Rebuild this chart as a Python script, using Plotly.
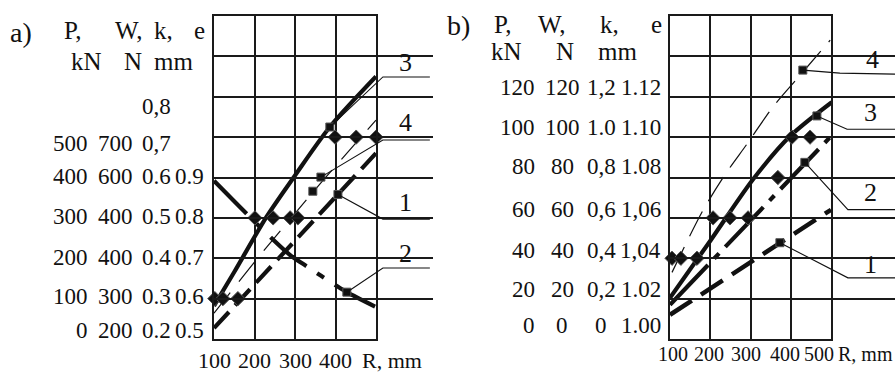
import plotly.graph_objects as go

W, H = 895, 372

# ---------------- panel a) data (R in mm, ordinate on the P scale, kN) ----------------
a1_R = [100, 500]
a1_y = [27, 460]
a2_R = [100, 214, 288, 332, 399, 428, 500]
a2_y = [392, 277, 208, 178, 134, 116, 79]
a3_R = [100, 150, 230, 300, 386, 500]
a3_y = [82, 166, 303, 405, 525, 650]
a4_R = [100, 210, 355, 500]
a4_y = [64, 203, 376, 542]

a_pts_R = [102, 122, 159, 201, 246, 288, 307, 399, 451, 500]
a_pts_y = [100, 100, 100, 300, 300, 300, 300, 500, 500, 500]

a_mark_R = [406, 428, 386, 344, 364]
a_mark_y = [358, 116, 525, 366, 401]

# leaders: marker -> elbow -> end, and curve number position
a_lead = {
    "3": ([386, 517, 633], [525, 649, 649], (572, 686)),
    "4": ([364, 517, 633], [401, 493, 493], (572, 535)),
    "1": ([406, 517, 633], [358, 297, 297], (572, 337)),
    "2": ([428, 517, 633], [116, 176, 176], (572, 213)),
}

a_rows = [0, 100, 200, 300, 400, 500, 600]
a_P = ["0", "100", "200", "300", "400", "500", ""]
a_W = ["200", "300", "400", "400", "600", "700", ""]
a_k = ["0.2", "0.3", "0.4", "0.5", "0.6", "0,7", "0,8"]
a_e = ["0.5", "0.6", "0.7", "0.8", "0.9", "", ""]
a_row_shift = [9, 2, 1, 1, 1, -6, -10]
a_xticks = [100, 200, 300, 400]

# ---------------- panel b) data ----------------
b1_R = [100, 500]
b1_y = [12, 64]
b2_R = [100, 500]
b2_y = [17, 100.4]
b3_R = [100, 202, 306, 398, 502]
b3_y = [20.4, 49.2, 79.0, 100.4, 117.3]
b4_R = [105, 180, 237, 291, 356, 416, 498]
b4_y = [33, 63, 81.5, 96.5, 115, 129, 148]

b_pts_R = [105, 127, 167, 207, 249, 294, 368, 403, 448]
b_pts_y = [40, 40, 40, 60, 60, 60, 80, 100, 100]

b_mark_R = [373, 435, 465, 430]
b_mark_y = [47.7, 87.5, 110.5, 133.2]

b_lead = {
    "4": ([430, 522, 659], [133.2, 131.7, 131.2], (602, 138.6)),
    "3": ([465, 540, 659], [110.5, 103.9, 103.9], (597, 112.3)),
    "2": ([435, 542, 659], [87.5, 64.1, 64.1], (597, 72.5)),
    "1": ([373, 542, 659], [47.7, 30.3, 30.3], (597, 36.8)),
}

b_rows = [0, 20, 40, 60, 80, 100, 120]
b_P = ["0", "20", "40", "60", "80", "100", "120"]
b_W = ["0", "20", "40", "60", "80", "100", "120"]
b_k = ["0", "0,2", "0,4", "0,6", "0,8", "1.0", "1,2"]
b_e = ["1.00", "1.02", "1,04", "1,06", "1.08", "1.10", "1.12"]
b_row_shift = [14, 9, 8, 8, 11, 10, 9]
b_xticks = [100, 200, 300, 400, 500]
b_xshift = [3, -1, -5, -6, -12]

FONT = "Liberation Serif"
INK = "#111111"
NUM = 23

# ---------------- geometry ----------------
def px(x):
    return x / W

def py(y):
    return 1 - y / H

a_dom_x = [px(214), px(376)]
b_dom_x = [px(670), px(831)]
dom_y = [py(339), py(16)]
a_lead_dom = [px(214), px(433)]
b_lead_dom = [px(670), px(895)]

def ext_range(dom, lead_dom):
    span = (lead_dom[1] - lead_dom[0]) / (dom[1] - dom[0])
    return [100, 100 + 400 * span]

fig = go.Figure()

def line(xa, ya, R, y, width, dash="solid", shape="linear"):
    fig.add_trace(go.Scatter(
        x=R, y=y, xaxis=xa, yaxis=ya, mode="lines",
        line=dict(color=INK, width=width, dash=dash, shape=shape, smoothing=0.8),
        hoverinfo="skip", showlegend=False))

def marks(xa, ya, R, y, symbol, size):
    fig.add_trace(go.Scatter(
        x=R, y=y, xaxis=xa, yaxis=ya, mode="markers", cliponaxis=False,
        marker=dict(symbol=symbol, size=size, color=INK,
                    line=dict(color="#555555", width=1)),
        hoverinfo="skip", showlegend=False))

# panel a curves
line("x", "y", a4_R, a4_y, 1.2, "26px,14px", "spline")
line("x", "y", a1_R, a1_y, 4.2, "22px,9px")
line("x", "y", a2_R, a2_y, 4.2, "46px,13px,8px,13px", "spline")
line("x", "y", a3_R, a3_y, 4.2, "solid", "spline")
marks("x", "y", a_pts_R, a_pts_y, "diamond", 11)
marks("x", "y", a_mark_R, a_mark_y, "square", 8)

# panel b curves
line("x2", "y2", b4_R, b4_y, 1.2, "28px,12px", "spline")
line("x2", "y2", b1_R, b1_y, 4.5, "26px,11px")
line("x2", "y2", b2_R, b2_y, 4.2, "55px,9px,7px,9px")
line("x2", "y2", b3_R, b3_y, 4.2, "solid", "spline")
marks("x2", "y2", b_pts_R, b_pts_y, "diamond", 11)
marks("x2", "y2", b_mark_R, b_mark_y, "square", 8)

# leader lines on wider invisible x axes sharing the panels' R scale
for key, (R, y, _) in a_lead.items():
    line("x3", "y", R, y, 1.1)
for key, (R, y, _) in b_lead.items():
    line("x4", "y2", R, y, 1.1)

ann = []

def text(s, x, y, size=NUM, xref="paper", yref="paper", xanchor="center",
         yanchor="middle", xshift=0, yshift=0):
    ann.append(dict(text=s, x=x, y=y, xref=xref, yref=yref, xanchor=xanchor,
                    yanchor=yanchor, xshift=xshift, yshift=yshift, showarrow=False,
                    font=dict(family=FONT, size=size, color=INK)))

# curve numbers
for key, (_, _, (lx, ly)) in a_lead.items():
    text(key, lx, ly, 26, "x3", "y")
for key, (_, _, (lx, ly)) in b_lead.items():
    text(key, lx, ly, 26, "x4", "y2")

# panel a left scales
for i, v in enumerate(a_rows):
    if a_P[i]:
        text(a_P[i], px(90), v, NUM, "paper", "y", "right", yshift=a_row_shift[i])
    if a_W[i]:
        text(a_W[i], px(115), v, NUM, "paper", "y", "center", yshift=a_row_shift[i])
    if a_k[i]:
        text(a_k[i], px(156), v, NUM, "paper", "y", "center", yshift=a_row_shift[i])
    if a_e[i]:
        text(a_e[i], px(206), v, NUM, "paper", "y", "right", yshift=a_row_shift[i])

# panel b left scales
for i, v in enumerate(b_rows):
    text(b_P[i], px(537), v, NUM, "paper", "y2", "right", yshift=b_row_shift[i])
    text(b_W[i], px(562), v, NUM, "paper", "y2", "center", yshift=b_row_shift[i])
    text(b_k[i], px(601), v, NUM, "paper", "y2", "center", yshift=b_row_shift[i])
    text(b_e[i], px(663), v, NUM, "paper", "y2", "right", yshift=b_row_shift[i])

# R tick labels
for v in a_xticks:
    text(str(v), v, py(360), 22, "x", "paper")
text("R, mm", px(360), py(360), 22, "paper", "paper", "left")
for v, s in zip(b_xticks, b_xshift):
    text(str(v), v, py(354), 20, "x2", "paper", xshift=s)
text("R, mm", px(836), py(354), 20, "paper", "paper", "left")

# headers
for s, x, y in [("P,", 62, 30), ("W,", 113, 30), ("k,", 152, 30), ("e", 192, 30),
                ("kN", 69, 62), ("N", 122, 62), ("mm", 152, 62)]:
    text(s, px(x), py(y), 25, xanchor="left")
for s, x, y in [("P,", 492, 25), ("W,", 536, 25), ("k,", 598, 25), ("e", 649, 25),
                ("kN", 489, 52), ("N", 554, 52), ("mm", 596, 52)]:
    text(s, px(x), py(y), 25, xanchor="left")

text("a)", px(8), py(32), 28, xanchor="left")
text("b)", px(445), py(26), 28, xanchor="left")

grid_x = dict(range=[100, 500], tickvals=[100, 200, 300, 400, 500], showgrid=True,
              gridcolor="#1a1a1a", gridwidth=1.6, showline=True, mirror=True,
              linecolor="#1a1a1a", linewidth=1.6, zeroline=False, ticks="",
              showticklabels=False, fixedrange=True)

fig.update_layout(
    width=W, height=H, margin=dict(l=0, r=0, t=0, b=0),
    paper_bgcolor="white", plot_bgcolor="rgba(0,0,0,0)",
    font=dict(family=FONT),
    xaxis=dict(grid_x, domain=a_dom_x, anchor="y"),
    yaxis=dict(range=[0, 800], dtick=100, domain=dom_y, anchor="x", showgrid=True,
               gridcolor="#1a1a1a", gridwidth=1.6, showline=True, mirror=True,
               linecolor="#1a1a1a", linewidth=1.6, zeroline=False, ticks="",
               showticklabels=False),
    xaxis2=dict(grid_x, domain=b_dom_x, anchor="y2"),
    yaxis2=dict(range=[0, 160], dtick=20, domain=dom_y, anchor="x2", showgrid=True,
                gridcolor="#1a1a1a", gridwidth=1.6, showline=True, mirror=True,
                linecolor="#1a1a1a", linewidth=1.6, zeroline=False, ticks="",
                showticklabels=False),
    xaxis3=dict(domain=a_lead_dom, range=ext_range(a_dom_x, a_lead_dom),
                anchor="y", visible=False),
    xaxis4=dict(domain=b_lead_dom, range=ext_range(b_dom_x, b_lead_dom),
                anchor="y2", visible=False),
    annotations=ann,
)

fig.write_html("out.html")
